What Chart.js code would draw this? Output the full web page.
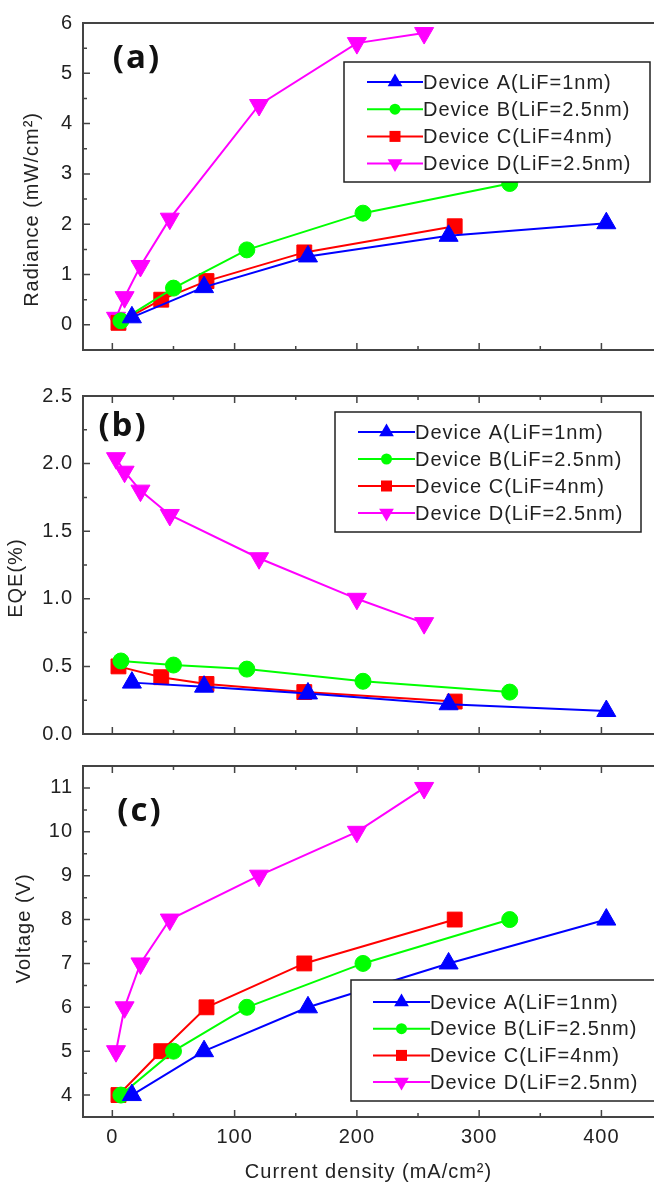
<!DOCTYPE html>
<html>
<head>
<meta charset="utf-8">
<script src="https://cdn.jsdelivr.net/npm/chart.js@4.4.1/dist/chart.umd.min.js"></script>
<style>
  html, body { margin: 0; padding: 0; overflow: hidden; background: #fff; }
  #wrap { width: 654px; height: 1183px; overflow: hidden; position: relative; }
  canvas { position: absolute; left: 0; }
</style>
</head>
<body>
<div id="wrap">
<canvas id="chartA" width="654" height="372" style="top:0"></canvas>
<canvas id="chartB" width="654" height="384" style="top:372px"></canvas>
<canvas id="chartC" width="654" height="441" style="top:742px"></canvas>
</div>
<script>
// legend labels
var devices = ['Device A(LiF=1nm)', 'Device B(LiF=2.5nm)', 'Device C(LiF=4nm)', 'Device D(LiF=2.5nm)'];

// current density (mA/cm2) of each device
var currentA = [16, 75, 160, 275, 404];
var currentB = [7, 50, 110, 205, 325];
var currentC = [5, 40, 77, 157, 280];
var currentD = [3, 10, 23, 47, 120, 200, 255];

// (a) radiance (mW/cm2)
var radianceA = [0.15, 0.75, 1.36, 1.77, 2.02];
var radianceB = [0.08, 0.73, 1.49, 2.22, 2.81];
var radianceC = [0.04, 0.50, 0.87, 1.44, 1.96];
var radianceD = [0.14, 0.55, 1.17, 2.11, 4.37, 5.60, 5.80];

// (b) EQE (%)
var eqeA = [0.38, 0.35, 0.30, 0.22, 0.17];
var eqeB = [0.54, 0.51, 0.48, 0.39, 0.31];
var eqeC = [0.50, 0.42, 0.37, 0.31, 0.24];
var eqeD = [2.04, 1.94, 1.80, 1.62, 1.30, 1.00, 0.82];

// (c) voltage (V)
var voltageA = [4, 5, 6, 7, 8];
var voltageB = [4, 5, 6, 7, 8];
var voltageC = [4, 5, 6, 7, 8];
var voltageD = [5, 6, 7, 8, 9, 10, 11];

// ticks
var xTicks = [0, 100, 200, 300, 400];
var xMinor = [50, 150, 250, 350];
var radianceTicks = [0, 1, 2, 3, 4, 5, 6];
var radianceMinor = [0.5, 1.5, 2.5, 3.5, 4.5, 5.5];
var eqeTicks = [0, 0.5, 1, 1.5, 2, 2.5];
var eqeMinor = [0.25, 0.75, 1.25, 1.75, 2.25];
var voltageTicks = [4, 5, 6, 7, 8, 9, 10, 11];
var voltageMinor = [4.5, 5.5, 6.5, 7.5, 8.5, 9.5, 10.5];

var FONT = "'Liberation Sans', Arial, sans-serif";
Chart.defaults.font.family = FONT;
Chart.defaults.font.size = 20;
Chart.defaults.color = '#222';

var colors = ['#0000ff', '#00ff00', '#ff0000', '#ff00ff'];
var styles = ['triangle', 'circle', 'rect', 'triangle'];
var rotations = [0, 0, 0, 180];
var radii = [11, 8, 10.5, 11];

function toPoints(xs, ys) {
    return xs.map(function (x, i) { return {x: x, y: ys[i]}; });
}

function makeDatasets(series) {
    var xs = [currentA, currentB, currentC, currentD];
    return series.map(function (ys, i) {
        return {
            label: devices[i],
            data: toPoints(xs[i], ys),
            borderColor: colors[i],
            backgroundColor: colors[i],
            borderWidth: 2,
            pointStyle: styles[i],
            pointRotation: rotations[i],
            pointRadius: radii[i],
            pointBorderWidth: 1,
            tension: 0
        };
    });
}

// the canvas text in the picture is a bit wide
var spacing = {
    id: 'spacing',
    beforeUpdate: function (chart) { chart.ctx.letterSpacing = '1px'; },
    beforeDraw: function (chart) { chart.ctx.letterSpacing = '1px'; }
};

// frame (right side is cropped off in the original) with inward ticks
var frame = {
    id: 'frame',
    afterDraw: function (chart, args, o) {
        var ctx = chart.ctx, a = chart.chartArea, x = chart.scales.x, y = chart.scales.y;
        ctx.save();
        ctx.strokeStyle = '#444';
        ctx.lineWidth = 2;
        ctx.beginPath();
        ctx.moveTo(a.right + 2, a.top); ctx.lineTo(a.left, a.top);
        ctx.lineTo(a.left, a.bottom); ctx.lineTo(a.right + 2, a.bottom);
        ctx.stroke();
        ctx.lineWidth = 1.5;
        ctx.beginPath();
        function yTick(v, len) {
            var p = y.getPixelForValue(v);
            ctx.moveTo(a.left, p); ctx.lineTo(a.left + len, p);
        }
        function xTick(v, len) {
            var p = x.getPixelForValue(v);
            ctx.moveTo(p, a.bottom); ctx.lineTo(p, a.bottom - len);
            if (o.top) { ctx.moveTo(p, a.top); ctx.lineTo(p, a.top + len); }
        }
        o.yMajor.forEach(function (v) { yTick(v, 7); });
        o.yMinor.forEach(function (v) { yTick(v, 4); });
        xTicks.forEach(function (v) { xTick(v, 7); });
        xMinor.forEach(function (v) { xTick(v, 4); });
        ctx.stroke();
        ctx.restore();
    }
};

function marker(ctx, style, x, y, r, rot) {
    ctx.beginPath();
    if (style === 'circle') {
        ctx.arc(x, y, r, 0, Math.PI * 2);
    } else if (style === 'rect') {
        ctx.rect(x - r, y - r, 2 * r, 2 * r);
    } else {
        var ang = rot * Math.PI / 180;
        for (var i = 0; i < 3; i++) {
            var px = x + Math.sin(ang) * r, py = y - Math.cos(ang) * r;
            if (i) ctx.lineTo(px, py); else ctx.moveTo(px, py);
            ang += 2 * Math.PI / 3;
        }
        ctx.closePath();
    }
    ctx.fill();
}

// framed legend like the original
var boxLegend = {
    id: 'boxLegend',
    afterDraw: function (chart, args, o) {
        var ctx = chart.ctx;
        var sizes = {triangle: 8.5, circle: 5.5, rect: 5.5};
        ctx.save();
        ctx.fillStyle = '#fff';
        ctx.fillRect(o.x, o.y, o.w, o.h);
        ctx.strokeStyle = '#222';
        ctx.lineWidth = 1.5;
        ctx.strokeRect(o.x, o.y, o.w, o.h);
        ctx.font = '20px ' + FONT;
        ctx.textBaseline = 'middle';
        chart.data.datasets.forEach(function (ds, i) {
            var yy = o.row0 + i * o.step;
            ctx.strokeStyle = ds.borderColor;
            ctx.lineWidth = 2;
            ctx.beginPath();
            ctx.moveTo(o.line1, yy); ctx.lineTo(o.line2, yy);
            ctx.stroke();
            ctx.fillStyle = ds.borderColor;
            marker(ctx, ds.pointStyle, (o.line1 + o.line2) / 2, yy, sizes[ds.pointStyle], ds.pointRotation);
            ctx.fillStyle = '#222';
            ctx.fillText(ds.label, o.line2, yy + 1);
        });
        ctx.restore();
    }
};

var panelLabel = {
    id: 'panelLabel',
    afterDraw: function (chart, args, o) {
        var ctx = chart.ctx;
        ctx.save();
        ctx.letterSpacing = '2px';
        ctx.font = 'bold 33px "Open Sans", ' + FONT;
        ctx.fillStyle = '#111';
        ctx.textAlign = 'center';
        ctx.textBaseline = 'middle';
        ctx.fillText(o.text, o.x, o.y);
        ctx.restore();
    }
};

function makeChart(id, series, cfg) {
    var ctx = document.getElementById(id).getContext('2d');
    var xScale = {
        type: 'linear', min: -24, max: 443, display: false
    };
    if (cfg.xTitle) {
        xScale = {
            type: 'linear', min: -24, max: 443,
            afterBuildTicks: function (s) { s.ticks = xTicks.map(function (v) { return {value: v}; }); },
            afterFit: function (s) { s.height = 66; },
            grid: {display: false, drawTicks: false},
            border: {display: false},
            ticks: {padding: 8, maxRotation: 0},
            title: {display: true, text: cfg.xTitle, font: {size: 20, lineHeight: 1.1}, padding: {top: 0, bottom: 0}, color: '#222'}
        };
    }
    return new Chart(ctx, {
        type: 'line',
        data: {datasets: makeDatasets(series)},
        plugins: [spacing, frame, boxLegend, panelLabel],
        options: {
            responsive: false,
            animation: false,
            layout: {padding: cfg.padding, autoPadding: false},
            scales: {
                x: xScale,
                y: {
                    min: cfg.min, max: cfg.max,
                    afterBuildTicks: function (s) { s.ticks = cfg.ticks.map(function (v) { return {value: v}; }); },
                    afterFit: function (s) { s.width = 83; },
                    grid: {display: false, drawTicks: false},
                    border: {display: false},
                    ticks: {padding: 10, callback: cfg.fmt},
                    title: {display: true, text: cfg.yTitle, font: {size: 20}, padding: {top: cfg.titlePad, bottom: 0}, color: '#222'}
                }
            },
            plugins: {
                legend: {display: false},
                tooltip: {enabled: false},
                frame: {top: cfg.topTicks, yMajor: cfg.ticks, yMinor: cfg.minor},
                boxLegend: cfg.legend,
                panelLabel: cfg.label
            }
        }
    });
}

makeChart('chartA', [radianceA, radianceB, radianceC, radianceD], {
    padding: {top: 23, bottom: 3, left: 0, right: 0},
    min: -0.5, max: 6, ticks: radianceTicks, minor: radianceMinor,
    fmt: function (v) { return v; },
    yTitle: 'Radiance (mW/cm\u00B2)       ', titlePad: 20, topTicks: false,
    legend: {x: 344, y: 62, w: 306, h: 120, row0: 82, step: 27.2, line1: 367, line2: 423},
    label: {text: '(a)', x: 137, y: 59}
});

makeChart('chartB', [eqeA, eqeB, eqeC, eqeD], {
    padding: {top: 24, bottom: 16, left: 0, right: 0},
    min: 0, max: 2.5, ticks: eqeTicks, minor: eqeMinor,
    fmt: function (v) { return v.toFixed(1); },
    yTitle: 'EQE(%)    ', titlePad: 4, topTicks: true,
    legend: {x: 335, y: 40, w: 306, h: 120, row0: 60, step: 27, line1: 358, line2: 415},
    label: {text: '(b)', x: 123, y: 55}
});

makeChart('chartC', [voltageA, voltageB, voltageC, voltageD], {
    padding: {top: 24, bottom: 0, left: 0, right: 0},
    min: 3.5, max: 11.5, ticks: voltageTicks, minor: voltageMinor,
    fmt: function (v) { return v; },
    yTitle: '    Voltage (V)', titlePad: 12, topTicks: true,
    xTitle: 'Current density (mA/cm\u00B2)',
    legend: {x: 351, y: 238, w: 320, h: 121, row0: 260, step: 26.7, line1: 373, line2: 430},
    label: {text: '(c)', x: 140, y: 70}
});
</script>
</body>
</html>
